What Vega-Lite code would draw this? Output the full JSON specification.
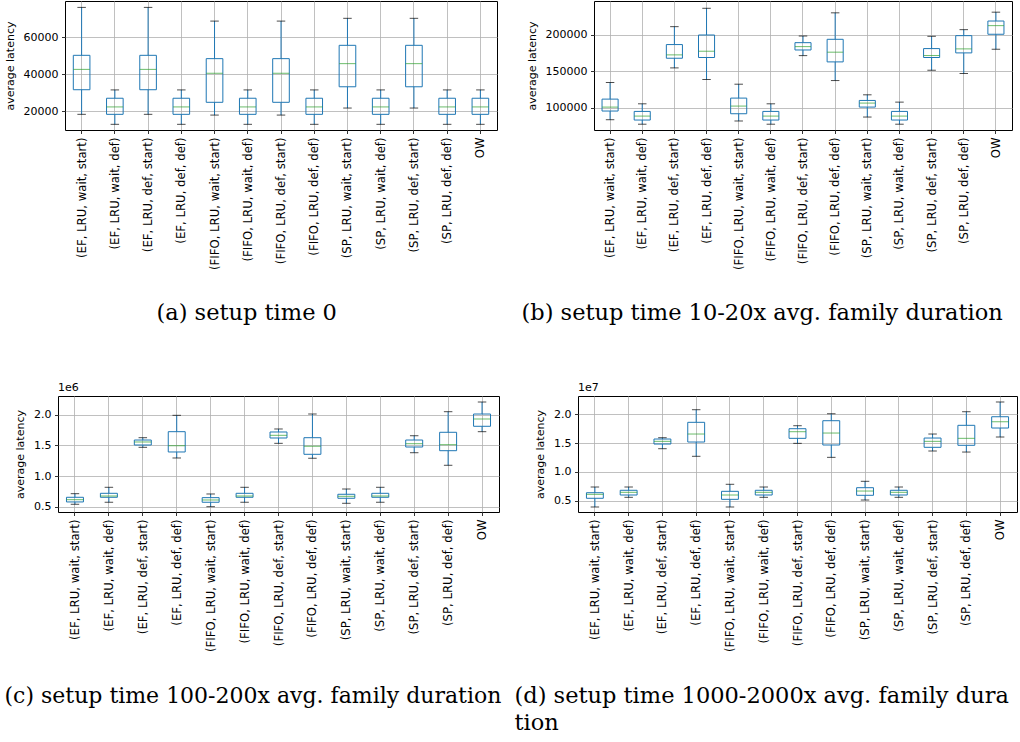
{
  "$schema": "https://vega.github.io/schema/vega-lite/v6.json",
  "padding": {"left": -9, "top": 0, "right": 0, "bottom": 0},
  "background": "white",
  "config": {
    "view": {"stroke": "black", "strokeWidth": 1},
    "axis": {
      "labelFont": "DejaVu Sans", "labelFontSize": 11, "labelColor": "black",
      "titleFont": "DejaVu Sans", "titleFontSize": 11, "titleFontWeight": "normal", "titleColor": "black",
      "tickColor": "black", "tickSize": 3.5, "tickWidth": 0.8, "domain": false,
      "gridColor": "#b0b0b0", "gridWidth": 0.8, "labelPadding": 3.5, "grid": true,
      "labelOverlap": false, "labelFlush": false
    },
    "axisX": {"labelFontSize": 11.7},
    "title": {"font": "DejaVu Sans", "fontSize": 11, "fontWeight": "normal", "color": "black", "anchor": "start", "frame": "group", "offset": 3}
  },
  "datasets": {
    "a": [
      {"cat": "(EF, LRU, wait, start)", "min": 18200, "q1": 31500, "med": 42500, "q3": 50100, "max": 76000},
      {"cat": "(EF, LRU, wait, def)", "min": 12800, "q1": 18200, "med": 22200, "q3": 26900, "max": 31400},
      {"cat": "(EF, LRU, def, start)", "min": 18200, "q1": 31500, "med": 42500, "q3": 50100, "max": 76000},
      {"cat": "(EF, LRU, def, def)", "min": 12800, "q1": 18200, "med": 22200, "q3": 26900, "max": 31400},
      {"cat": "(FIFO, LRU, wait, start)", "min": 17800, "q1": 24700, "med": 40400, "q3": 48300, "max": 68600},
      {"cat": "(FIFO, LRU, wait, def)", "min": 12800, "q1": 18200, "med": 22200, "q3": 26900, "max": 31400},
      {"cat": "(FIFO, LRU, def, start)", "min": 17800, "q1": 24700, "med": 40400, "q3": 48300, "max": 68600},
      {"cat": "(FIFO, LRU, def, def)", "min": 12800, "q1": 18200, "med": 22200, "q3": 26900, "max": 31400},
      {"cat": "(SP, LRU, wait, start)", "min": 21600, "q1": 33100, "med": 45600, "q3": 55500, "max": 70100},
      {"cat": "(SP, LRU, wait, def)", "min": 12800, "q1": 18200, "med": 22200, "q3": 26900, "max": 31400},
      {"cat": "(SP, LRU, def, start)", "min": 21600, "q1": 33100, "med": 45600, "q3": 55500, "max": 70100},
      {"cat": "(SP, LRU, def, def)", "min": 12800, "q1": 18200, "med": 22200, "q3": 26900, "max": 31400},
      {"cat": "OW", "min": 12800, "q1": 18200, "med": 22200, "q3": 26900, "max": 31400}
    ],
    "b": [
      {"cat": "(EF, LRU, wait, start)", "min": 83650, "q1": 95500, "med": 100900, "q3": 111800, "max": 134500},
      {"cat": "(EF, LRU, wait, def)", "min": 77500, "q1": 83200, "med": 88600, "q3": 95000, "max": 105400},
      {"cat": "(EF, LRU, def, start)", "min": 154500, "q1": 167700, "med": 172300, "q3": 186400, "max": 210900},
      {"cat": "(EF, LRU, def, def)", "min": 138600, "q1": 168700, "med": 177300, "q3": 199500, "max": 236000},
      {"cat": "(FIFO, LRU, wait, start)", "min": 81900, "q1": 91800, "med": 102300, "q3": 113200, "max": 132200},
      {"cat": "(FIFO, LRU, wait, def)", "min": 77500, "q1": 83200, "med": 88600, "q3": 95000, "max": 105400},
      {"cat": "(FIFO, LRU, def, start)", "min": 171300, "q1": 179000, "med": 183600, "q3": 189000, "max": 198100},
      {"cat": "(FIFO, LRU, def, def)", "min": 137200, "q1": 162700, "med": 176000, "q3": 193600, "max": 229800},
      {"cat": "(SP, LRU, wait, start)", "min": 87300, "q1": 100900, "med": 106400, "q3": 110000, "max": 117700},
      {"cat": "(SP, LRU, wait, def)", "min": 77500, "q1": 83200, "med": 88600, "q3": 95000, "max": 107700},
      {"cat": "(SP, LRU, def, start)", "min": 151300, "q1": 168700, "med": 171400, "q3": 180900, "max": 197700},
      {"cat": "(SP, LRU, def, def)", "min": 146800, "q1": 175000, "med": 180500, "q3": 198600, "max": 206800},
      {"cat": "OW", "min": 180000, "q1": 200500, "med": 212300, "q3": 218600, "max": 230700}
    ],
    "c": [
      {"cat": "(EF, LRU, wait, start)", "min": 539000, "q1": 577000, "med": 614000, "q3": 653000, "max": 712000},
      {"cat": "(EF, LRU, wait, def)", "min": 572000, "q1": 653000, "med": 674000, "q3": 718000, "max": 816000},
      {"cat": "(EF, LRU, def, start)", "min": 1468000, "q1": 1506000, "med": 1555000, "q3": 1587000, "max": 1625000},
      {"cat": "(EF, LRU, def, def)", "min": 1294000, "q1": 1392000, "med": 1494000, "q3": 1723000, "max": 1990000},
      {"cat": "(FIFO, LRU, wait, start)", "min": 500000, "q1": 572000, "med": 609000, "q3": 647000, "max": 707000},
      {"cat": "(FIFO, LRU, wait, def)", "min": 572000, "q1": 653000, "med": 674000, "q3": 718000, "max": 816000},
      {"cat": "(FIFO, LRU, def, start)", "min": 1533000, "q1": 1620000, "med": 1664000, "q3": 1718000, "max": 1767000},
      {"cat": "(FIFO, LRU, def, def)", "min": 1289000, "q1": 1354000, "med": 1484000, "q3": 1625000, "max": 2011000},
      {"cat": "(SP, LRU, wait, start)", "min": 555000, "q1": 637000, "med": 669000, "q3": 702000, "max": 788000},
      {"cat": "(SP, LRU, wait, def)", "min": 572000, "q1": 653000, "med": 674000, "q3": 718000, "max": 816000},
      {"cat": "(SP, LRU, def, start)", "min": 1380000, "q1": 1473000, "med": 1527000, "q3": 1587000, "max": 1657000},
      {"cat": "(SP, LRU, def, def)", "min": 1175000, "q1": 1413000, "med": 1511000, "q3": 1713000, "max": 2049000},
      {"cat": "OW", "min": 1723000, "q1": 1811000, "med": 1930000, "q3": 2011000, "max": 2207000}
    ],
    "d": [
      {"cat": "(EF, LRU, wait, start)", "min": 3910000, "q1": 5420000, "med": 6110000, "q3": 6390000, "max": 7380000},
      {"cat": "(EF, LRU, wait, def)", "min": 5590000, "q1": 5990000, "med": 6460000, "q3": 6810000, "max": 7380000},
      {"cat": "(EF, LRU, def, start)", "min": 14030000, "q1": 14840000, "med": 15310000, "q3": 15710000, "max": 15940000},
      {"cat": "(EF, LRU, def, def)", "min": 12710000, "q1": 15190000, "med": 16580000, "q3": 18610000, "max": 20800000},
      {"cat": "(FIFO, LRU, wait, start)", "min": 3910000, "q1": 5240000, "med": 5990000, "q3": 6630000, "max": 7850000},
      {"cat": "(FIFO, LRU, wait, def)", "min": 5590000, "q1": 5990000, "med": 6460000, "q3": 6810000, "max": 7380000},
      {"cat": "(FIFO, LRU, def, start)", "min": 14960000, "q1": 15830000, "med": 16980000, "q3": 17500000, "max": 18020000},
      {"cat": "(FIFO, LRU, def, def)", "min": 12530000, "q1": 14670000, "med": 16750000, "q3": 18890000, "max": 20100000},
      {"cat": "(SP, LRU, wait, start)", "min": 5120000, "q1": 5940000, "med": 6680000, "q3": 7260000, "max": 8370000},
      {"cat": "(SP, LRU, wait, def)", "min": 5590000, "q1": 5990000, "med": 6460000, "q3": 6810000, "max": 7380000},
      {"cat": "(SP, LRU, def, start)", "min": 13630000, "q1": 14270000, "med": 15310000, "q3": 15880000, "max": 16580000},
      {"cat": "(SP, LRU, def, def)", "min": 13450000, "q1": 14620000, "med": 15830000, "q3": 18090000, "max": 20450000},
      {"cat": "OW", "min": 16060000, "q1": 17620000, "med": 18710000, "q3": 19580000, "max": 22140000}
    ]
  },
  "columns": 3,
  "align": "none",
  "spacing": {"row": 57, "column": 11},
  "concat": [
    {"width": 1, "height": 1, "data": {"values": []}, "mark": "point", "view": {"stroke": null}},
    {
      "width": 432, "height": 129,
      "data": {"name": "a"},
      "encoding": {
        "x": {"field": "cat", "type": "nominal", "sort": null, "scale": {"paddingInner": 0, "paddingOuter": 0},
          "axis": {"labelAngle": -90, "bandPosition": 0.5, "title": "(a) setup time 0", "titleFont": "DejaVu Serif", "titleFontSize": 22.5, "titleX": 91, "titleY": 189, "titleAlign": "left", "titleAnchor": "start", "titleBaseline": "alphabetic"}}
      },
      "layer": [
        {"mark": {"type": "rule", "color": "#1f77b4", "strokeWidth": 1},
         "encoding": {"y": {"field": "min", "type": "quantitative", "scale": {"domain": [9730, 79460], "nice": false, "zero": false}, "axis": {"title": "average latency", "values": [20000, 40000, 60000], "tickCount": 10, "format": "d", "titlePadding": 8}}, "y2": {"field": "q1"}}},
        {"mark": {"type": "rule", "color": "#1f77b4", "strokeWidth": 1},
         "encoding": {"y": {"field": "q3", "type": "quantitative"}, "y2": {"field": "max"}}},
        {"mark": {"type": "bar", "fill": "transparent", "stroke": "#1f77b4", "strokeWidth": 1, "width": {"band": 0.5}},
         "encoding": {"y": {"field": "q1", "type": "quantitative"}, "y2": {"field": "q3"}}},
        {"mark": {"type": "tick", "color": "#2ca02c", "size": 16.5, "thickness": 1},
         "encoding": {"y": {"field": "med", "type": "quantitative"}}},
        {"mark": {"type": "tick", "color": "black", "size": 8.5, "thickness": 1},
         "encoding": {"y": {"field": "min", "type": "quantitative"}}},
        {"mark": {"type": "tick", "color": "black", "size": 8.5, "thickness": 1},
         "encoding": {"y": {"field": "max", "type": "quantitative"}}}
      ]
    },
    {
      "width": 418, "height": 129,
      "data": {"name": "b"},
      "encoding": {
        "x": {"field": "cat", "type": "nominal", "sort": null, "scale": {"paddingInner": 0, "paddingOuter": 0},
          "axis": {"labelAngle": -90, "bandPosition": 0.5, "title": "(b) setup time 10-20x avg. family duration", "titleFont": "DejaVu Serif", "titleFontSize": 22.5, "titleX": -73, "titleY": 189, "titleAlign": "left", "titleAnchor": "start", "titleBaseline": "alphabetic"}}
      },
      "layer": [
        {"mark": {"type": "rule", "color": "#1f77b4", "strokeWidth": 1},
         "encoding": {"y": {"field": "min", "type": "quantitative", "scale": {"domain": [69577, 245975], "nice": false, "zero": false}, "axis": {"title": "average latency", "values": [100000, 150000, 200000], "tickCount": 10, "format": "d", "titlePadding": 8}}, "y2": {"field": "q1"}}},
        {"mark": {"type": "rule", "color": "#1f77b4", "strokeWidth": 1},
         "encoding": {"y": {"field": "q3", "type": "quantitative"}, "y2": {"field": "max"}}},
        {"mark": {"type": "bar", "fill": "transparent", "stroke": "#1f77b4", "strokeWidth": 1, "width": {"band": 0.5}},
         "encoding": {"y": {"field": "q1", "type": "quantitative"}, "y2": {"field": "q3"}}},
        {"mark": {"type": "tick", "color": "#2ca02c", "size": 16, "thickness": 1},
         "encoding": {"y": {"field": "med", "type": "quantitative"}}},
        {"mark": {"type": "tick", "color": "black", "size": 8.5, "thickness": 1},
         "encoding": {"y": {"field": "min", "type": "quantitative"}}},
        {"mark": {"type": "tick", "color": "black", "size": 8.5, "thickness": 1},
         "encoding": {"y": {"field": "max", "type": "quantitative"}}}
      ]
    },
    {"width": 1, "height": 1, "data": {"values": []}, "mark": "point", "view": {"stroke": null}},
    {
      "width": 441, "height": 116,
      "title": {"text": "1e6"},
      "data": {"name": "c"},
      "encoding": {
        "x": {"field": "cat", "type": "nominal", "sort": null, "scale": {"paddingInner": 0, "paddingOuter": 0},
          "axis": {"labelAngle": -90, "bandPosition": 0.5, "title": "(c) setup time 100-200x avg. family duration", "titleFont": "DejaVu Serif", "titleFontSize": 22, "titleX": -54, "titleY": 190, "titleAlign": "left", "titleAnchor": "start", "titleBaseline": "alphabetic"}}
      },
      "layer": [
        {"mark": {"type": "rule", "color": "#1f77b4", "strokeWidth": 1},
         "encoding": {"y": {"field": "min", "type": "quantitative", "scale": {"domain": [413000, 2305000], "nice": false, "zero": false}, "axis": {"title": "average latency", "values": [500000, 1000000, 1500000, 2000000], "tickCount": 10, "labelExpr": "format(datum.value / 1000000, '.1f')", "titlePadding": 8}}, "y2": {"field": "q1"}}},
        {"mark": {"type": "rule", "color": "#1f77b4", "strokeWidth": 1},
         "encoding": {"y": {"field": "q3", "type": "quantitative"}, "y2": {"field": "max"}}},
        {"mark": {"type": "bar", "fill": "transparent", "stroke": "#1f77b4", "strokeWidth": 1, "width": {"band": 0.5}},
         "encoding": {"y": {"field": "q1", "type": "quantitative"}, "y2": {"field": "q3"}}},
        {"mark": {"type": "tick", "color": "#2ca02c", "size": 17, "thickness": 1},
         "encoding": {"y": {"field": "med", "type": "quantitative"}}},
        {"mark": {"type": "tick", "color": "black", "size": 8.5, "thickness": 1},
         "encoding": {"y": {"field": "min", "type": "quantitative"}}},
        {"mark": {"type": "tick", "color": "black", "size": 8.5, "thickness": 1},
         "encoding": {"y": {"field": "max", "type": "quantitative"}}}
      ]
    },
    {
      "width": 439, "height": 116,
      "title": {"text": "1e7"},
      "data": {"name": "d"},
      "encoding": {
        "x": {"field": "cat", "type": "nominal", "sort": null, "scale": {"paddingInner": 0, "paddingOuter": 0},
          "axis": {"labelAngle": -90, "bandPosition": 0.5, "title": ["(d) setup time 1000-2000x avg. family dura", "\u00a0\u00a0\u00a0\u00a0\u00a0tion"], "titleFont": "DejaVu Serif", "titleFontSize": 22.5, "titleX": -64, "titleY": 190, "titleAlign": "left", "titleAnchor": "start", "titleBaseline": "alphabetic", "titleLineHeight": 27}}
      },
      "layer": [
        {"mark": {"type": "rule", "color": "#1f77b4", "strokeWidth": 1},
         "encoding": {"y": {"field": "min", "type": "quantitative", "scale": {"domain": [3040000, 23180000], "nice": false, "zero": false}, "axis": {"title": "average latency", "values": [5000000, 10000000, 15000000, 20000000], "tickCount": 10, "labelExpr": "format(datum.value / 10000000, '.1f')", "titlePadding": 8}}, "y2": {"field": "q1"}}},
        {"mark": {"type": "rule", "color": "#1f77b4", "strokeWidth": 1},
         "encoding": {"y": {"field": "q3", "type": "quantitative"}, "y2": {"field": "max"}}},
        {"mark": {"type": "bar", "fill": "transparent", "stroke": "#1f77b4", "strokeWidth": 1, "width": {"band": 0.5}},
         "encoding": {"y": {"field": "q1", "type": "quantitative"}, "y2": {"field": "q3"}}},
        {"mark": {"type": "tick", "color": "#2ca02c", "size": 17, "thickness": 1},
         "encoding": {"y": {"field": "med", "type": "quantitative"}}},
        {"mark": {"type": "tick", "color": "black", "size": 8.5, "thickness": 1},
         "encoding": {"y": {"field": "min", "type": "quantitative"}}},
        {"mark": {"type": "tick", "color": "black", "size": 8.5, "thickness": 1},
         "encoding": {"y": {"field": "max", "type": "quantitative"}}}
      ]
    }
  ]
}
